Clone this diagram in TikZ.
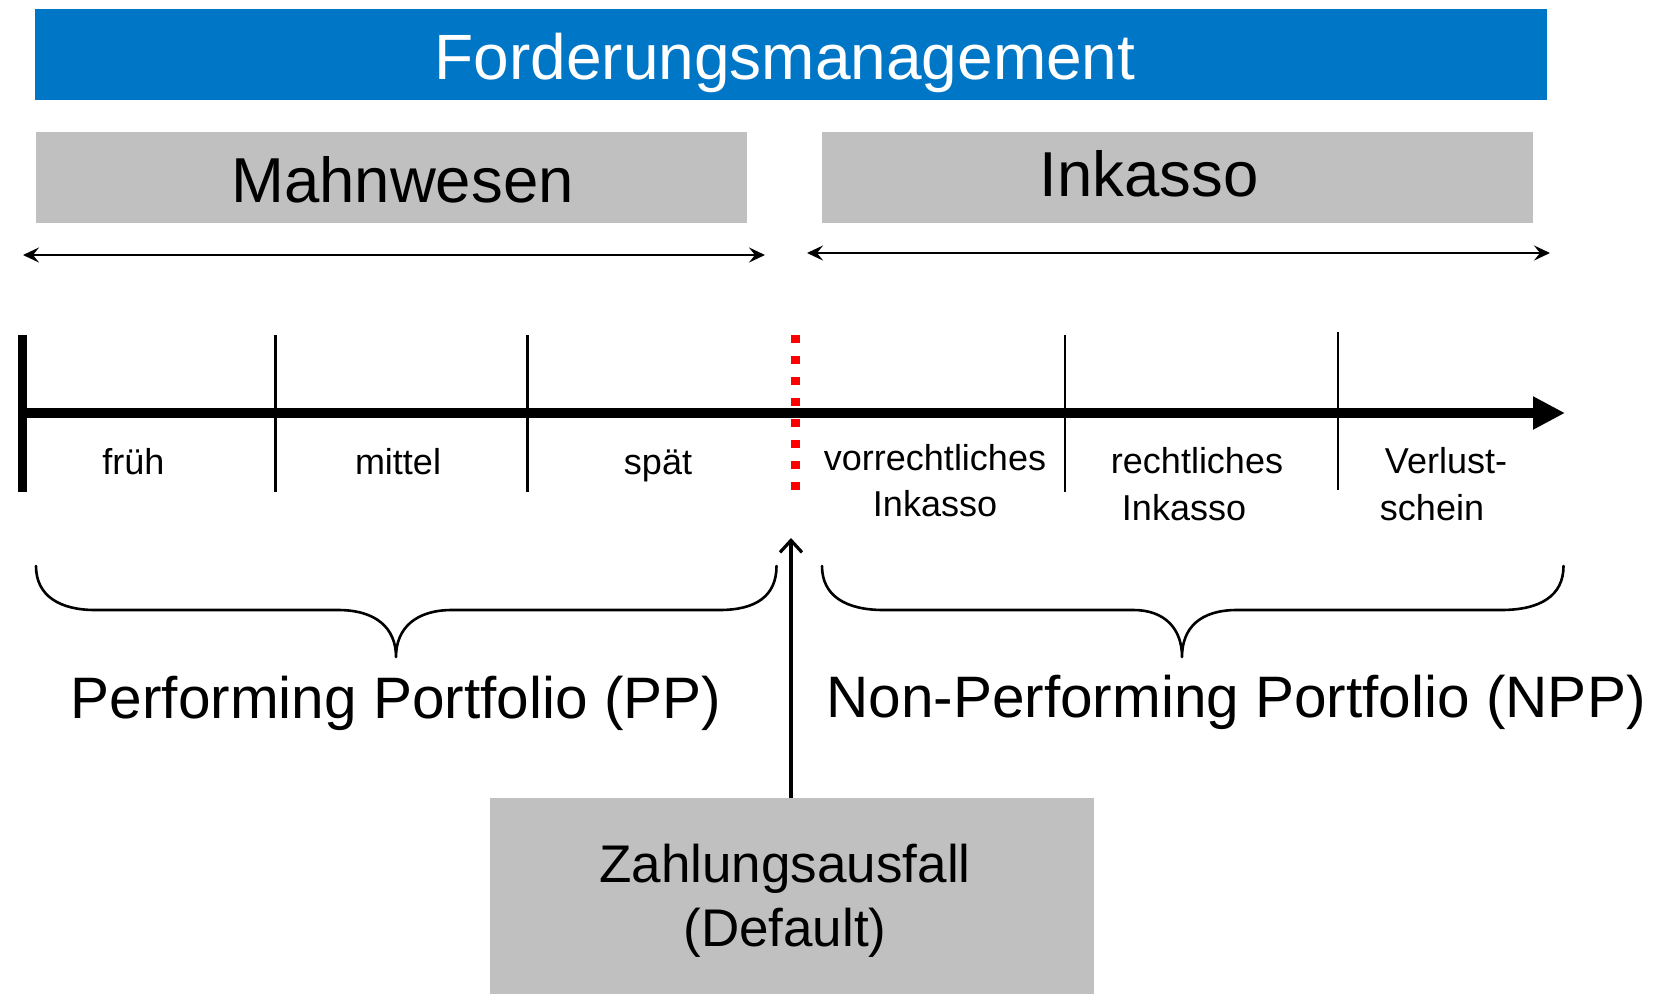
\documentclass[tikz,border=0pt]{standalone}
\usepackage{fontspec}
\setmainfont{Liberation Sans}
\usetikzlibrary{arrows.meta}

\definecolor{fmblue}{RGB}{0,118,199}
\definecolor{boxgray}{RGB}{192,192,192}
\definecolor{defred}{RGB}{255,0,0}

\newcommand\fsz[2]{\fontsize{#1}{#2}\selectfont}

\begin{document}
\begin{tikzpicture}[x=1pt,y=-1pt,
  panel/.style={fill=boxgray, draw=none, inner sep=0pt, anchor=north west},
  txt/.style={inner sep=0pt, anchor=base},
  span/.style={line width=2.6pt, {Stealth[length=16pt,width=15pt,inset=6pt]}-{Stealth[length=16pt,width=15pt,inset=6pt]}},
  tick/.style={line width=2.2pt},
  brace/.style={line width=2.6pt, line cap=round, line join=round},
  stagelbl/.style={txt, font=\fsz{36}{43}},
  portlbl/.style={txt, font=\fsz{58.5}{70}}
]
\useasboundingbox (0,0) rectangle (1661,993);

% header bar
\node[fill=fmblue, inner sep=0pt, anchor=north west,
      minimum width=1512pt, minimum height=91pt] (head) at (35,8.5) {};
\node[txt, text=white, font=\fsz{64}{77}] (headlbl) at (785,79) {Forderungsmanagement};

% phase boxes
\node[panel, minimum width=711pt, minimum height=90.5pt] (mahn) at (36,132) {};
\node[txt, font=\fsz{63.5}{76}] (mahnlbl) at (402.5,202) {Mahnwesen};
\node[panel, minimum width=711pt, minimum height=90.5pt] (ink) at (822,132) {};
\node[txt, font=\fsz{63.5}{76}] (inklbl) at (1149,196) {Inkasso};

% extent of each phase
\coordinate (mL) at (23,255);
\coordinate (mR) at (765,255);
\coordinate (iL) at (807,253);
\coordinate (iR) at (1550,253);
\draw[span] (mL) -- (mR);
\draw[span] (iL) -- (iR);

% time axis
\coordinate (t0) at (22,413);
\coordinate (tEnd) at (1565,413);
\coordinate (s0a) at (22,335);
\coordinate (s0b) at (22,491.5);
\draw[line width=9pt] (s0a) -- (s0b);
\draw[line width=10pt, -{Triangle[length=32pt,width=31pt]}] (t0) -- (tEnd);

% stage separators
\coordinate (s1a) at (275.4,335);  \coordinate (s1b) at (275.4,491.5);
\coordinate (s2a) at (527.5,335);  \coordinate (s2b) at (527.5,491.5);
\coordinate (s3a) at (1064.6,335); \coordinate (s3b) at (1064.6,491.5);
\coordinate (s4a) at (1338,332);   \coordinate (s4b) at (1338,489.5);
\draw[tick] (s1a) -- (s1b);
\draw[tick] (s2a) -- (s2b);
\draw[tick] (s3a) -- (s3b);
\draw[tick] (s4a) -- (s4b);

% default threshold
\coordinate (dA) at (795.5,335);
\coordinate (dB) at (795.5,492);
\draw[defred, line width=9pt, dash pattern=on 8pt off 13pt] (dA) -- (dB);

% stage labels
\node[stagelbl] (fru) at (133.5,474) {früh};
\node[stagelbl] (mit) at (398,474) {mittel};
\node[stagelbl] (spa) at (658,474) {spät};
\node[stagelbl] (vor1) at (935,470) {vorrechtliches};
\node[stagelbl] (vor2) at (935,516) {Inkasso};
\node[stagelbl] (rec1) at (1197,473) {rechtliches};
\node[stagelbl] (rec2) at (1184,520) {Inkasso};
\node[stagelbl] (ver1) at (1446,473) {Verlust-};
\node[stagelbl] (ver2) at (1432,520) {schein};

% portfolio braces
\coordinate (bL1) at (36,566);
\coordinate (bL2) at (776.5,566);
\coordinate (bR1) at (822,566);
\coordinate (bR2) at (1563.5,566);
\draw[brace] (bL1) .. controls (36,596) and (60,610) .. (95,610) -- (338,610)
  .. controls (376,610) and (396,628) .. (396,657)
  .. controls (396,628) and (416,610) .. (452,610) -- (719.5,610)
  .. controls (756,610) and (776.5,596) .. (bL2);
\draw[brace] (bR1) .. controls (822,596) and (846,610) .. (883.5,610) -- (1133.5,610)
  .. controls (1164,610) and (1182,628) .. (1182,657)
  .. controls (1182,628) and (1200,610) .. (1237,610) -- (1501,610)
  .. controls (1540,610) and (1563.5,596) .. (bR2);

\node[portlbl] (pp) at (396,718) {Performing Portfolio (PP)};
\node[portlbl] (npp) at (1236,717) {Non-Performing Portfolio (NPP)};

% default event
\node[panel, minimum width=604pt, minimum height=196pt] (dflt) at (490,797.6) {};
\node[txt, font=\fsz{53}{64}] (dflt1) at (785,882) {Zahlungsausfall};
\node[txt, font=\fsz{53}{64}] (dflt2) at (785,946) {(Default)};
\coordinate (dTip) at (791,538);
\draw[line width=3.2pt, -{Straight Barb[length=12pt,width=22pt]}] (dflt.north -| dTip) -- (dTip);
\end{tikzpicture}
\end{document}
